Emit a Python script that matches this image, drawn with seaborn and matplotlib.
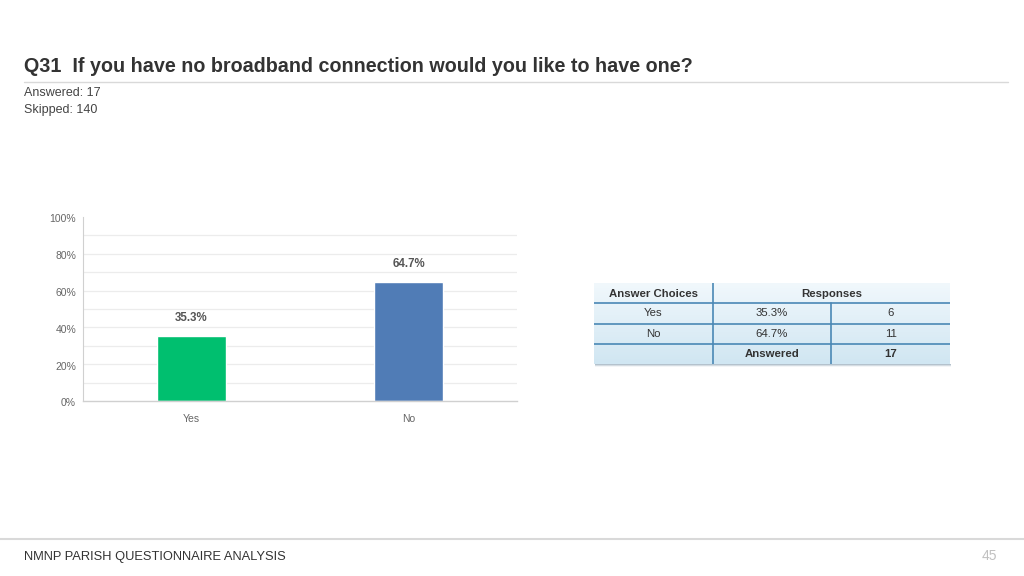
import numpy as np
import pandas as pd
import matplotlib
matplotlib.use("Agg")
import matplotlib.pyplot as plt
import matplotlib.transforms as mtrans
import seaborn as sns
from matplotlib.colors import LinearSegmentedColormap

categories = ["Yes", "No"]
percent = [35.3, 64.7]
counts = [6, 11]
answered = 17
skipped = 140
bar_colors = ["#00bf6f", "#507cb6"]
y_ticks = [0, 20, 40, 60, 80, 100]

sns.set_theme(style="white")
plt.rcParams["font.family"] = ["Liberation Sans", "DejaVu Sans"]

fig = plt.figure(figsize=(10.24, 5.76), dpi=100)
W, H = 1024, 576

def fx(px):
    return px / W

def fy(py):
    return 1 - py / H

# header
fig.text(fx(24), fy(67), "Q31  If you have no broadband connection would you like to have one?",
         fontsize=14.2, fontweight="bold", color="#333333", va="center", ha="left")
fig.add_artist(plt.Line2D([fx(24), fx(1008)], [fy(81.5), fy(81.5)], color="#d9d9d9", lw=1))
fig.text(fx(24), fy(93.5), f"Answered: {answered}", fontsize=9, color="#444444", va="center")
fig.text(fx(24), fy(109.5), f"Skipped: {skipped}", fontsize=9, color="#444444", va="center")

# footer
fig.add_artist(plt.Line2D([0, 1], [fy(538.5), fy(538.5)], color="#d9d9d9", lw=1.5))
fig.text(fx(24), fy(557), "NMNP PARISH QUESTIONNAIRE ANALYSIS", fontsize=9.3, color="#333333", va="center")
fig.text(fx(997), fy(555.5), "45", fontsize=10, color="#c0c0c0", va="center", ha="right")

# bar chart
ax = fig.add_axes([fx(83), fy(401), fx(517 - 83), (401 - 217) / H])
df = pd.DataFrame({"cat": categories, "pct": percent})
sns.barplot(data=df, x="cat", y="pct", hue="cat", palette=bar_colors, width=0.32,
            legend=False, ax=ax, saturation=1)
ax.set_xlim(-0.5, 1.5)
ax.set_ylim(0, 100)
for g in range(10, 100, 10):
    ax.axhline(g, color="#ececec", lw=0.9, zorder=0)
ax.set_yticks(y_ticks)
ax.set_yticklabels([f"{t}%" for t in y_ticks], fontsize=7.5, color="#666666")
ax.tick_params(axis="y", length=0, pad=5)
ax.tick_params(axis="x", length=0, pad=9, labelsize=7.5, labelcolor="#666666")
ax.set_xlabel("")
ax.set_ylabel("")
shift = mtrans.ScaledTranslation(0, -2.5 / 100, fig.dpi_scale_trans)
for lbl in ax.get_yticklabels():
    lbl.set_verticalalignment("center")
    lbl.set_transform(lbl.get_transform() + shift)
for s in ["top", "right"]:
    ax.spines[s].set_visible(False)
ax.spines["left"].set_color("#d0d0d0")
ax.spines["left"].set_linewidth(0.8)
ax.spines["bottom"].set_color("#d0d0d0")
ax.spines["bottom"].set_linewidth(1.0)
ax.set_axisbelow(True)
for i, p in enumerate(percent):
    ax.text(i, p + 6.5, f"{p:.1f}%", ha="center", va="bottom", fontsize=8.3,
            fontweight="bold", color="#555555")

# table
tx0, tx1, ty0, ty1 = 594, 950, 283, 364
tax = fig.add_axes([fx(tx0), fy(ty1), fx(tx1 - tx0), (ty1 - ty0) / H])
tax.set_xlim(0, 3)
tax.set_ylim(4, 0)
tax.axis("off")
grad = np.linspace(0, 1, 256).reshape(-1, 1)
cmap = LinearSegmentedColormap.from_list("g", ["#f1f8fc", "#d0e6f2"])
tax.imshow(grad, extent=[0, 3, 4, 0], cmap=cmap, aspect="auto", zorder=0)
# shadow
sax = fig.add_axes([fx(tx0 + 1), fy(ty1 + 3), fx(tx1 - tx0), 3 / H])
sax.axis("off")
sax.imshow(np.linspace(0, 1, 10).reshape(-1, 1), extent=[0, 1, 0, 1],
           cmap=LinearSegmentedColormap.from_list("s", ["#a9b9c6", "#ffffff"]), aspect="auto")
line_c = "#4a88b5"
for r in [1, 2, 3]:
    tax.plot([0, 3], [r, r], color=line_c, lw=1.2, zorder=2)
tax.plot([1, 1], [0, 4], color=line_c, lw=1.2, zorder=2)
tax.plot([2, 2], [1, 4], color=line_c, lw=1.2, zorder=2)
txt = dict(fontsize=8.2, color="#333333", ha="center", va="center", zorder=3)
tax.text(0.5, 0.55, "Answer Choices", fontweight="bold", **txt)
tax.text(2.0, 0.55, "Responses", fontweight="bold", **txt)
for i, (c, p, n) in enumerate(zip(categories, percent, counts)):
    tax.text(0.5, 1.5 + i, c, **txt)
    tax.text(1.5, 1.5 + i, f"{p:.1f}%", **txt)
    tax.text(2.5, 1.5 + i, str(n), **txt)
tax.text(1.5, 3.5, "Answered", fontweight="bold", **txt)
tax.text(2.5, 3.5, str(answered), fontweight="bold", **txt)

fig.savefig("out.png", dpi=100, facecolor="white")
